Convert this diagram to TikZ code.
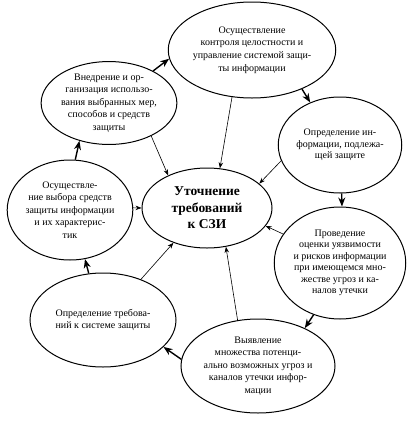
\documentclass[tikz,border=0pt]{standalone}
\usepackage{fontspec}
\setmainfont{Liberation Serif}
\usetikzlibrary{shapes.geometric,arrows.meta}
\tikzset{
  stage/.style={ellipse,draw,line width=1pt,inner sep=0pt,align=center,
    font=\fontsize{10}{11.5}\selectfont},
  cyc/.style={line width=1.4pt,-{Stealth[length=9pt,width=7pt]}},
  spoke/.style={line width=0.6pt,-{Stealth[length=6pt,width=4.5pt]}}
}
\begin{document}
\begin{tikzpicture}[x=1pt,y=-1pt]
  \useasboundingbox (0,0) rectangle (412,424);
  % stages of the cycle
  \node[stage,minimum width=144pt,minimum height=96pt,font=\fontsize{10}{12.8}\selectfont] (ctrl) at (252,50)
    {Осуществление\\контроля целостности и\\управление системой защи-\\ты информации};
  \node[stage,minimum width=128pt,minimum height=80pt,font=\fontsize{10}{12.5}\selectfont] (impl) at (109,103)
    {Внедрение и ор-\\ганизация использо-\\вания выбранных мер,\\способов и средств\\защиты};
  \node[stage,minimum width=106pt,minimum height=96pt] (info) at (340,145)
    {Определение ин-\\формации, подлежа-\\щей защите};
  \node[stage,minimum width=130pt,minimum height=80pt,
    font=\fontsize{13.5}{16.5}\selectfont\bfseries] (spec) at (207,208)
    {Уточнение\\требований\\к СЗИ};
  \node[stage,minimum width=116pt,minimum height=100pt,font=\fontsize{10}{12.5}\selectfont] (sel) at (70,210)
    {Осуществле-\\ние выбора средств\\защиты информации\\и их характерис-\\тик};
  \node[stage,minimum width=126pt,minimum height=112pt] (risk) at (340,263)
    {Проведение\\оценки уязвимости\\и рисков информации\\при имеющемся мно-\\жестве угроз и ка-\\налов утечки};
  \node[stage,minimum width=146pt,minimum height=94pt] (req) at (103,320)
    {Определение требова-\\ний к системе защиты};
  \node[stage,minimum width=154pt,minimum height=94pt,font=\fontsize{10}{12.5}\selectfont] (thr) at (258,366)
    {Выявление\\множества потенци-\\ально возможных угроз и\\каналов утечки инфор-\\мации};
  % cycle
  \draw[cyc] (impl.36) -- (ctrl.186);
  \draw[cyc] (ctrl.-38) -- (info.125);
  \draw[cyc] (info.-88) -- (risk.88);
  \draw[cyc] (risk.-117) -- (thr.39);
  \draw[cyc] (thr.175) -- (req.-24);
  \draw[cyc] (req.107) -- (sel.-73);
  \draw[cyc] (sel.84) -- (impl.232);
  % towards the centre
  \draw[spoke] (impl.-38) -- (spec.140);
  \draw[spoke] (ctrl.-113) -- (spec.72);
  \draw[spoke] (info.195) -- (spec.25);
  \draw[spoke] (risk.153) -- (spec.-17);
  \draw[spoke] (thr.114) -- (spec.-64);
  \draw[spoke] (req.47) -- (spec.-134);
  \draw[spoke] (sel.2) -- (spec.180);
\end{tikzpicture}
\end{document}
